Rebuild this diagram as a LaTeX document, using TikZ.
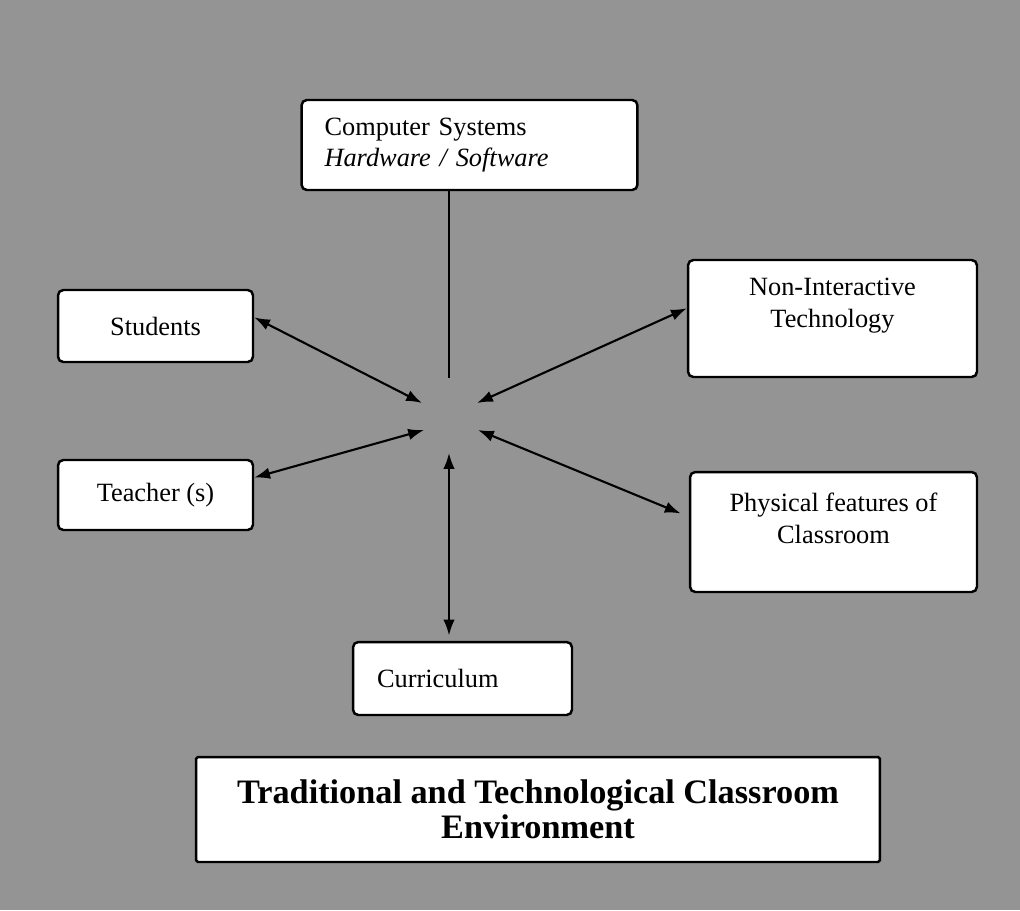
\documentclass[tikz,border=0pt]{standalone}
\usepackage{fontspec}
\setmainfont{Liberation Serif}
\usetikzlibrary{arrows.meta}

\begin{document}
\begin{tikzpicture}[x=0.02cm, y=-0.02cm,
	box/.style={draw, fill=white, line width=1.4pt, rounded corners=3pt, align=center,
		inner sep=0pt, font=\fontsize{15}{18}\selectfont},
	link/.style={line width=1.2pt, {Latex[length=9pt,width=6.5pt]}-{Latex[length=9pt,width=6.5pt]}},
	stem/.style={line width=1.4pt}]
	%background
	\fill[black!42] (0,0) rectangle (1020,910);
	\useasboundingbox (0,0) rectangle (1020,910);

	%boxes
	\node[box, align=left, text width=5.8cm, inner xsep=0.46cm, minimum height=1.8cm] (comp) at (469.5,145)
		{Computer Systems\\\textit{Hardware / Software}};
	\node[box, minimum width=3.9cm, minimum height=1.44cm] (stud) at (155.5,326) {Students};
	\node[box, minimum width=3.9cm, minimum height=1.4cm] (teach) at (155.5,495) {Teacher (s)};
	\node[box, minimum width=5.78cm, minimum height=2.34cm, text depth=18pt] (nonint) at (832.5,318.5)
		{Non-Interactive\\Technology};
	\node[box, minimum width=5.74cm, minimum height=2.4cm, text depth=16pt] (phys) at (833.5,532)
		{Physical features of\\Classroom};
	\node[box, align=left, text width=3.42cm, inner xsep=0.48cm, minimum height=1.46cm] (curr) at (462.5,678.5)
		{Curriculum};
	\node[box, rounded corners=1pt, minimum width=13.68cm, minimum height=2.1cm,
		font=\fontsize{19.5}{20}\selectfont\bfseries] (title) at (538,809.5)
		{Traditional and Technological Classroom\\Environment};

	%hub
	\coordinate (hubN)  at (449,378);
	\coordinate (hubNW) at (422,403);
	\coordinate (hubNE) at (477,403);
	\coordinate (hubSW) at (424,430);
	\coordinate (hubSE) at (478,430);
	\coordinate (hubS)  at (449,453);

	%arrows
	\draw[stem] (comp.south -| hubN) -- (hubN);
	\draw[link] (hubNW) -- (stud.5);
	\draw[link] (hubSW) -- (teach.10);
	\draw[link] (hubNE) -- (nonint.176);
	\draw[link, shorten >=5pt] (hubSE) -- (phys.174);
	\draw[link, shorten >=3pt] (hubS) -- (curr.north -| hubS);
\end{tikzpicture}
\end{document}
